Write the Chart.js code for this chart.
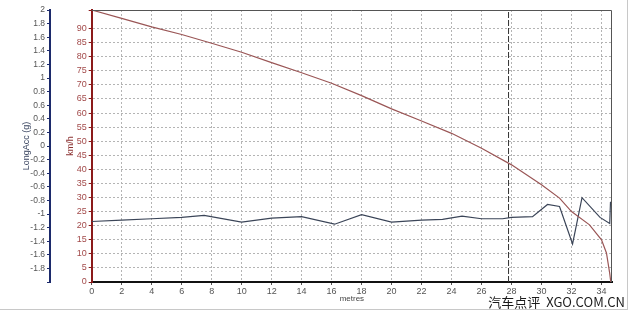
<!DOCTYPE html>
<html>
<head>
<meta charset="utf-8">
<script src="https://cdn.jsdelivr.net/npm/chart.js@4/dist/chart.umd.min.js"></script>
<style>
  html, body { margin: 0; padding: 0; background: #fff; }
  #wrap { position: relative; width: 630px; height: 313px; }
  #frame { position: absolute; left: 0; top: 0; width: 627px; height: 309px;
           border-right: 1px solid #c8c8c8; border-bottom: 1px solid #c8c8c8; pointer-events: none; }
</style>
</head>
<body>
<div id="wrap">
  <canvas id="grafico" width="630" height="313"></canvas>
  <div id="frame"></div>
</div>
<script>
// velocidade (km/h) por distância (m)
const speedDist = [0, 2, 4, 6, 8, 10, 12, 14, 16, 18, 20, 22, 24, 26, 28, 30, 31.2, 32, 33.2, 34, 34.33, 34.55, 34.62];
const speedKmh  = [96.6, 93.6, 90.6, 87.9, 84.8, 81.6, 77.9, 74.3, 70.6, 66.2, 61.5, 57.2, 52.8, 47.5, 41.6, 34.5, 29.8, 25.0, 20.3, 15.0, 10.3, 3.0, 0];

// aceleração longitudinal (g)
const accDist = [0, 2, 4, 6, 7.5, 10, 12, 14, 16.2, 18, 20, 22, 23.4, 24.7, 26, 27.4, 28, 29.4, 30.4, 31.2, 32.07, 32.7, 33.9, 34.55, 34.6];
const accG    = [-1.11, -1.09, -1.07, -1.05, -1.02, -1.12, -1.06, -1.04, -1.15, -1.01, -1.12, -1.09, -1.08, -1.03, -1.07, -1.07, -1.05, -1.04, -0.86, -0.89, -1.44, -0.76, -1.05, -1.14, -0.82];

// marcador tracejado
const markerDist = 27.8;

const xTicks = [0, 2, 4, 6, 8, 10, 12, 14, 16, 18, 20, 22, 24, 26, 28, 30, 32, 34];
const fonte = "'Liberation Sans', Arial, sans-serif";

// moldura da área do gráfico + marca d'água
const molduraPlugin = {
    id: "moldura",
    afterDraw(chart) {
        const { ctx, chartArea: a } = chart;
        ctx.save();
        ctx.strokeStyle = "#555";
        ctx.lineWidth = 1;
        ctx.beginPath();
        ctx.moveTo(a.left, a.top + 0.5);
        ctx.lineTo(a.right - 0.5, a.top + 0.5);
        ctx.lineTo(a.right - 0.5, a.bottom);
        ctx.stroke();
        ctx.fillStyle = "#1a1a1a";
        ctx.font = "13px 'Noto Sans CJK SC', sans-serif";
        ctx.textAlign = "right";
        ctx.textBaseline = "middle";
        ctx.fillText("汽车点评  XGO.COM.CN", 625, 302);
        ctx.restore();
    }
};

const ctx = document.getElementById("grafico").getContext("2d");

new Chart(ctx, {
    type: "line",
    data: {
        datasets: [
            {
                label: "km/h",
                data: speedDist.map((d, i) => ({ x: d, y: speedKmh[i] })),
                yAxisID: "yKmh",
                borderColor: "#9a5656",
                borderWidth: 1.2,
                pointRadius: 0,
                tension: 0
            },
            {
                label: "LongAcc (g)",
                data: accDist.map((d, i) => ({ x: d, y: accG[i] })),
                yAxisID: "yG",
                borderColor: "#3b4558",
                borderWidth: 1.2,
                pointRadius: 0,
                tension: 0
            },
            {
                label: "marcador",
                data: [{ x: markerDist, y: 0 }, { x: markerDist, y: 96.6 }],
                yAxisID: "yKmh",
                borderColor: "#333",
                borderWidth: 1,
                borderDash: [6, 2],
                pointRadius: 0
            }
        ]
    },
    plugins: [molduraPlugin],
    options: {
        responsive: false,
        animation: false,
        layout: { padding: { top: 10, right: 18, bottom: 9, left: 0 } },
        plugins: {
            legend: { display: false },
            tooltip: { enabled: false }
        },
        scales: {
            x: {
                type: "linear",
                min: 0,
                max: 34.7,
                afterBuildTicks: (scale) => { scale.ticks = xTicks.map(v => ({ value: v })); },
                afterFit: (scale) => { scale.height = 22; },
                ticks: {
                    color: "#555",
                    font: { family: fonte, size: 9 },
                    padding: 1,
                    maxRotation: 0,
                    autoSkip: false
                },
                grid: {
                    color: "#b4b4b4",
                    tickColor: "#555",
                    tickLength: 3
                },
                border: { color: "#111", width: 2, dash: [2, 2] },
                title: {
                    display: true,
                    text: "metres",
                    color: "#444",
                    font: { family: fonte, size: 8 },
                    padding: 0
                }
            },
            yKmh: {
                type: "linear",
                position: "left",
                weight: 0,
                min: 0,
                max: 96.6,
                afterFit: (scale) => { scale.width = 41.7; },
                ticks: {
                    stepSize: 5,
                    color: "#a24a4a",
                    font: { family: fonte, size: 9 },
                    padding: 2,
                    autoSkip: false,
                    callback: (v) => (v % 5 === 0 ? v : "")
                },
                grid: {
                    color: "#b4b4b4",
                    tickColor: "#8b1a1a",
                    tickLength: 3
                },
                border: { color: "#8b1a1a", width: 2, dash: [2, 2] },
                title: {
                    display: true,
                    text: "km/h",
                    color: "#8b3030",
                    font: { family: fonte, size: 9 },
                    padding: { top: 15, bottom: 0 }
                }
            },
            yG: {
                type: "linear",
                position: "left",
                weight: 1,
                min: -2,
                max: 2,
                afterFit: (scale) => { scale.width = 50; },
                ticks: {
                    stepSize: 0.2,
                    color: "#555",
                    font: { family: fonte, size: 8.5 },
                    padding: 2,
                    autoSkip: false,
                    callback: (v) => {
                        const r = Math.round(v * 10) / 10;
                        return r === -2 ? "" : r;
                    }
                },
                grid: {
                    drawOnChartArea: false,
                    tickColor: "#1c2a6b",
                    tickLength: 3
                },
                border: { color: "#1c2a6b", width: 2 },
                title: {
                    display: true,
                    text: "LongAcc (g)",
                    color: "#3a4560",
                    font: { family: fonte, size: 9 },
                    padding: { top: 21, bottom: 0 }
                }
            }
        }
    }
});
</script>
</body>
</html>
